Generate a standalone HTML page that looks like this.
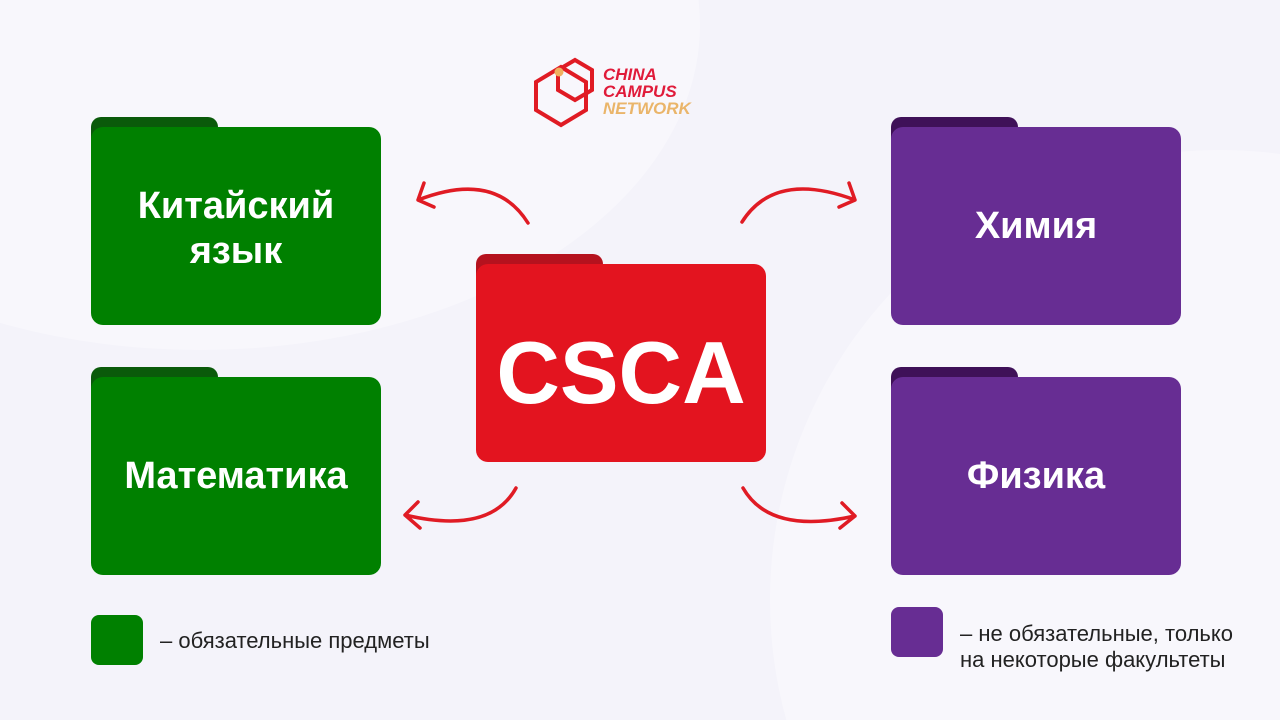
<!DOCTYPE html>
<html><head><meta charset="utf-8"><style>
html,body{margin:0;width:1280px;height:720px;overflow:hidden}
body{background:#f4f3fa;font-family:"Liberation Sans",sans-serif}
#w{position:relative;width:1280px;height:720px;overflow:hidden}
.bg1{position:absolute;left:-300px;top:-300px;width:1000px;height:650px;border-radius:50%;background:#f8f7fc}
.bg2{position:absolute;left:770px;top:150px;width:900px;height:900px;border-radius:50%;background:#f8f7fc}
.f{position:absolute}
.tab{position:absolute;left:0;top:0;width:127px;height:30px;border-radius:10px 10px 0 0}
.body{position:absolute;left:0;top:10px;right:0;bottom:0;border-radius:12px;display:flex;align-items:center;justify-content:center;text-align:center;color:#fff;font-weight:bold;font-size:38px;line-height:45px}
.g .tab{background:#0a5a0a}.g .body{background:#008000}
.p .tab{background:#3f1158}.p .body{background:#672d93}
.r .tab{background:#b5121e}.r .body{background:#e3141f}
.leg{position:absolute;font-size:22px;color:#222;line-height:26px}
</style></head><body><div id="w">
<div class="bg1"></div><div class="bg2"></div>
<div class="f g" style="left:91px;top:117px;width:290px;height:208px"><div class="tab"></div><div class="body" style="padding-top:6px;box-sizing:border-box">Китайский<br>язык</div></div>
<div class="f g" style="left:91px;top:367px;width:290px;height:208px"><div class="tab"></div><div class="body">Математика</div></div>
<div class="f p" style="left:891px;top:117px;width:290px;height:208px"><div class="tab"></div><div class="body">Химия</div></div>
<div class="f p" style="left:891px;top:367px;width:290px;height:208px"><div class="tab"></div><div class="body">Физика</div></div>
<div class="f r" style="left:476px;top:254px;width:290px;height:208px"><div class="tab"></div><div class="body" style="font-size:88px;padding-top:18px;box-sizing:border-box">CSCA</div></div>
<div style="position:absolute;left:91px;top:615px;width:52px;height:50px;border-radius:8px;background:#008000"></div>
<div class="leg" style="left:160px;top:628px">– обязательные предметы</div>
<div style="position:absolute;left:891px;top:607px;width:52px;height:50px;border-radius:8px;background:#672d93"></div>
<div class="leg" style="left:960px;top:621px">– не обязательные, только<br>на некоторые факультеты</div>
<svg width="1280" height="720" style="position:absolute;left:0;top:0" fill="none" stroke="#e01b24" stroke-width="3.5" stroke-linecap="round" stroke-linejoin="round">
<path d="M528 223 Q495 170 418 200 M424 183 L418 200 L434 207"/>
<path d="M742 222 Q775 170 855 200 M849 183 L855 200 L839 207"/>
<path d="M516 488 Q490 535 405 515 M418 502 L405 515 L420 528"/>
<path d="M743 488 Q770 535 855 516 M842 503 L855 516 L840 528"/>
<g stroke-width="4" stroke-linejoin="miter">
<path d="M561 67 L586 82 L586 110 L561 125 L536 110 L536 82 Z"/>
<path d="M575 60 L592 70 L592 90 L575 100 L558 90 L558 70 Z"/></g>
<circle cx="559" cy="72" r="4.5" fill="#f0b060" stroke="none"/>
</svg>
<div style="position:absolute;left:603px;top:66px;font-weight:bold;font-size:17px;line-height:17px;color:#e01b3a;font-style:italic">CHINA<br>CAMPUS<br><span style="color:#eab56a">NETWORK</span></div>
</div></body></html>
